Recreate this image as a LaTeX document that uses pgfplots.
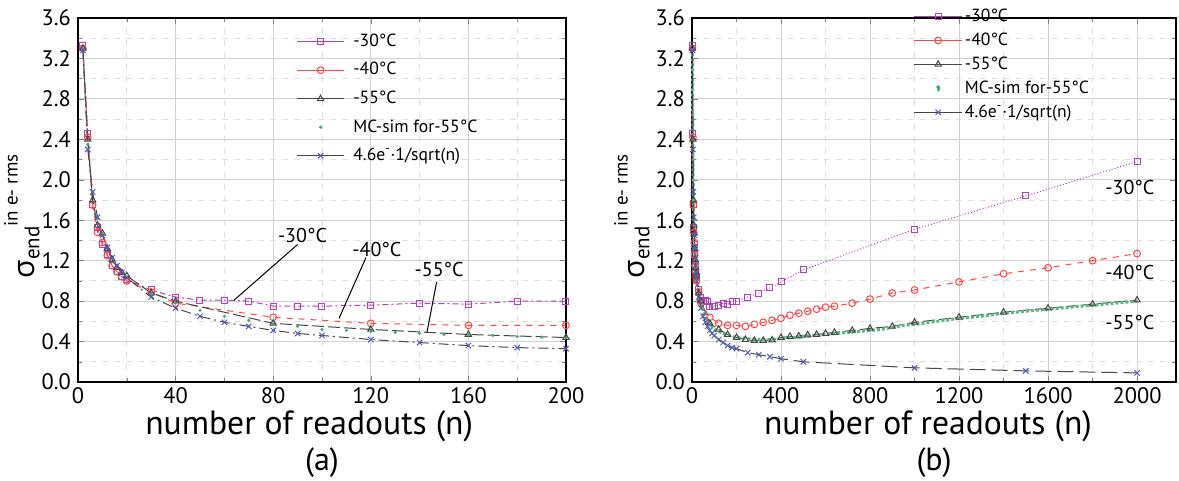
\documentclass[border=0pt]{standalone}
\usepackage{fontspec}
\setmainfont{PT Sans}
\newfontfamily\grk{Open Sans}
\usepackage{pgfplots}
\usepackage{pgfplotstable}
\pgfplotsset{compat=1.18}

\definecolor{c30}{RGB}{175,65,185}
\definecolor{c40}{RGB}{255,70,70}
\definecolor{c55}{RGB}{70,70,70}
\definecolor{cmc}{RGB}{60,170,110}
\definecolor{cfit}{RGB}{80,90,175}

% sigma_end readings, n = number of readouts
\pgfplotstableread{
n s
2 3.33
4 2.46
6 1.76
8 1.53
10 1.36
12 1.26
14 1.15
16 1.09
18 1.04
20 1.01
30 0.91
40 0.84
50 0.81
60 0.81
70 0.80
80 0.75
90 0.75
100 0.75
120 0.76
140 0.78
160 0.77
180 0.80
200 0.80
250 0.84
300 0.88
350 0.93
400 0.99
500 1.11
1000 1.51
1500 1.84
2000 2.18
}\tthirty

\pgfplotstableread{
n s
2 3.30
4 2.42
6 1.75
8 1.48
10 1.38
12 1.25
14 1.15
16 1.09
18 1.04
20 1.00
30 0.89
40 0.78
80 0.64
120 0.58
160 0.56
200 0.56
240 0.55
280 0.57
320 0.59
360 0.61
400 0.63
440 0.66
480 0.68
520 0.70
560 0.72
600 0.74
640 0.75
720 0.78
800 0.82
900 0.88
1000 0.91
1200 0.99
1400 1.07
1600 1.13
1800 1.20
2000 1.27
}\tforty

\pgfplotstableread{
n s
2 3.30
4 2.40
6 1.80
8 1.55
10 1.47
12 1.32
14 1.21
16 1.13
18 1.08
20 1.05
30 0.88
40 0.80
80 0.58
120 0.52
160 0.47
200 0.44
240 0.42
280 0.41
320 0.41
360 0.415
400 0.44
440 0.45
480 0.455
520 0.465
560 0.47
600 0.48
640 0.49
720 0.51
800 0.53
900 0.55
1000 0.59
1200 0.64
1400 0.69
1600 0.73
1800 0.77
2000 0.81
}\tfiftyfive

\pgfplotstableread{
n s
2 3.30
4 2.35
6 1.88
8 1.62
10 1.46
15 1.18
20 1.04
30 0.87
40 0.78
50 0.71
60 0.65
70 0.61
80 0.57
90 0.55
100 0.52
110 0.51
120 0.50
130 0.49
140 0.48
150 0.47
160 0.465
170 0.46
180 0.45
190 0.445
200 0.44
250 0.43
300 0.42
350 0.42
400 0.43
450 0.44
500 0.45
550 0.46
600 0.47
650 0.48
700 0.49
750 0.50
800 0.51
850 0.52
900 0.54
950 0.56
1000 0.57
1100 0.60
1200 0.63
1300 0.65
1400 0.68
1500 0.70
1600 0.72
1700 0.74
1800 0.76
1900 0.78
2000 0.80
}\tmc

\pgfplotstableread{
n s
2 3.28
4 2.30
6 1.88
8 1.63
10 1.45
12 1.33
14 1.23
16 1.15
18 1.08
20 1.03
30 0.84
40 0.73
50 0.65
60 0.59
70 0.55
80 0.51
90 0.48
100 0.46
120 0.42
140 0.39
160 0.36
180 0.34
200 0.33
250 0.29
300 0.27
350 0.25
400 0.23
500 0.20
1000 0.14
1500 0.11
2000 0.09
}\tfit

\newcommand{\ylab}{{\grk σ}\raisebox{-0.35ex}{\fontsize{10.5}{12}\selectfont end}\raisebox{1.1ex}{\fontsize{9.5}{11}\selectfont in e- rms}}

\pgfplotsset{
  panel/.style={
    scale only axis, height=182pt,
    ymin=0, ymax=3.6,
    ytick={0,0.4,0.8,1.2,1.6,2.0,2.4,2.8,3.2,3.6},
    minor x tick num=1, minor y tick num=1,
    grid=both,
    major grid style={gray!35, line width=0.5pt},
    minor grid style={gray!25, dashed, line width=0.4pt},
    tick align=inside,
    major tick length=3pt, minor tick length=1.8pt,
    axis line style={line width=0.6pt},
    /pgf/number format/assume math mode=true,
    tick label style={font=\fontsize{11.2}{13}\selectfont},
    x tick label style={/pgf/number format/1000 sep={}, inner sep=1pt, yshift=-1.5pt},
    y tick label style={/pgf/number format/.cd, fixed, fixed zerofill, precision=1},
    scaled ticks=false,
    legend style={draw=none, fill=none, font=\fontsize{8.8}{10.5}\selectfont, anchor=north west,
      cells={anchor=west}, nodes={inner sep=1.2pt}},
    legend image code/.code={\draw[mark repeat=2, mark phase=2, #1, solid] plot coordinates {(0cm,0cm) (0.42cm,0cm) (0.84cm,0cm)};},
    clip=false,
  },
  s30/.style={color=c30, line width=0.5pt, mark=square, mark size=1.5pt, mark options={solid}},
  s40/.style={color=c40, line width=0.5pt, dashed, mark=o, mark size=1.7pt, mark options={solid}},
  s55/.style={color=c55, line width=0.5pt, dash pattern=on 6pt off 2pt, mark=triangle, mark size=1.8pt, mark options={solid}},
  sfit/.style={color=c55, line width=0.5pt, dash pattern=on 5pt off 2pt on 1pt off 2pt, mark=x, mark size=1.9pt, mark options={solid, color=cfit}},
  mcleg/.style={legend image code/.code={\fill[cmc] (0.42cm,0cm) circle (0.6pt);}},
}

\begin{document}
\begin{tikzpicture}
% ---------- (a)
\begin{axis}[panel,
  at={(39pt,49.5pt)}, anchor=south west, width=244pt,
  xmin=0, xmax=200, xtick={0,40,80,120,160,200},
  legend style={at={(axis description cs:0.434,0.975)}, row sep=4.1pt,
    /tikz/every odd column/.append style={column sep=3pt}},
]
\addplot[s30, dash pattern=on 3pt off 1.5pt on 1pt off 1.5pt, restrict x to domain=0:200] table[x=n,y=s] {\tthirty};
\addlegendentry{-30°C}
\addplot[s40, restrict x to domain=0:200] table[x=n,y=s] {\tforty};
\addlegendentry{-40°C}
\addplot[s55, restrict x to domain=0:200] table[x=n,y=s] {\tfiftyfive};
\addlegendentry{-55°C}
\addplot[only marks, mark=*, mark size=0.55pt, color=cmc, mcleg, restrict x to domain=0:200] table[x=n,y=s] {\tmc};
\addlegendentry{MC-sim for-55°C}
\addplot[sfit, restrict x to domain=0:200] table[x=n,y=s] {\tfit};
\addlegendentry{4.6e\textsuperscript{-}·1/sqrt(n)}
\draw[line width=0.5pt] (axis cs:90,1.36) -- (axis cs:64,0.81);
\draw[line width=0.5pt] (axis cs:118,1.23) -- (axis cs:107,0.63);
\draw[line width=0.5pt] (axis cs:147,0.99) -- (axis cs:143,0.49);
\node[font=\fontsize{10}{12}\selectfont] at (axis cs:92,1.45) {-30°C};
\node[font=\fontsize{10}{12}\selectfont] at (axis cs:122.5,1.31) {-40°C};
\node[font=\fontsize{10}{12}\selectfont] at (axis cs:148,1.11) {-55°C};
\node[rotate=90, anchor=west, font=\fontsize{15}{17}\selectfont] at (axis description cs:-0.115,0.266) {\ylab};
\node[anchor=west, inner sep=0.5pt, font=\fontsize{16.8}{19}\selectfont] at (axis description cs:0.135,0) [yshift=-22pt] {number of readouts (n)};
\node[anchor=center, inner sep=0.5pt, font=\fontsize{16}{19}\selectfont] at (axis description cs:0.5,0) [yshift=-40.5pt] {(a)};
\end{axis}
% ---------- (b)
\begin{axis}[panel,
  at={(346pt,49.5pt)}, anchor=south west, width=242pt,
  xmin=0, xmax=2175, xtick={0,400,800,1200,1600,2000},
  legend style={at={(axis description cs:0.445,1.044)}, row sep=1.8pt},
]
\addplot[s30, densely dotted] table[x=n,y=s] {\tthirty};
\addlegendentry{-30°C}
\addplot[s40] table[x=n,y=s] {\tforty};
\addlegendentry{-40°C}
\addplot[s55] table[x=n,y=s] {\tfiftyfive};
\addlegendentry{-55°C}
\addplot[color=cmc!85, densely dotted, line width=1.5pt, mcleg] table[x=n,y=s] {\tmc};
\addlegendentry{MC-sim for-55°C}
\addplot[sfit, dash pattern=on 8pt off 3pt] table[x=n,y=s] {\tfit};
\addlegendentry{4.6e\textsuperscript{-}·1/sqrt(n)}
\node[font=\fontsize{10}{12}\selectfont] at (axis cs:1968,1.92) {-30°C};
\node[font=\fontsize{10}{12}\selectfont] at (axis cs:1968,1.08) {-40°C};
\node[font=\fontsize{10}{12}\selectfont] at (axis cs:1968,0.59) {-55°C};
\node[rotate=90, anchor=west, font=\fontsize{15}{17}\selectfont] at (axis description cs:-0.124,0.266) {\ylab};
\node[anchor=west, inner sep=0.5pt, font=\fontsize{16.8}{19}\selectfont] at (axis description cs:0.146,0) [yshift=-22pt] {number of readouts (n)};
\node[anchor=center, inner sep=0.5pt, font=\fontsize{16}{19}\selectfont] at (axis description cs:0.5,0) [yshift=-40.5pt] {(b)};
\end{axis}
\pgfresetboundingbox
\useasboundingbox (0,0) rectangle (589.5pt,240.5pt);
\end{tikzpicture}
\end{document}
